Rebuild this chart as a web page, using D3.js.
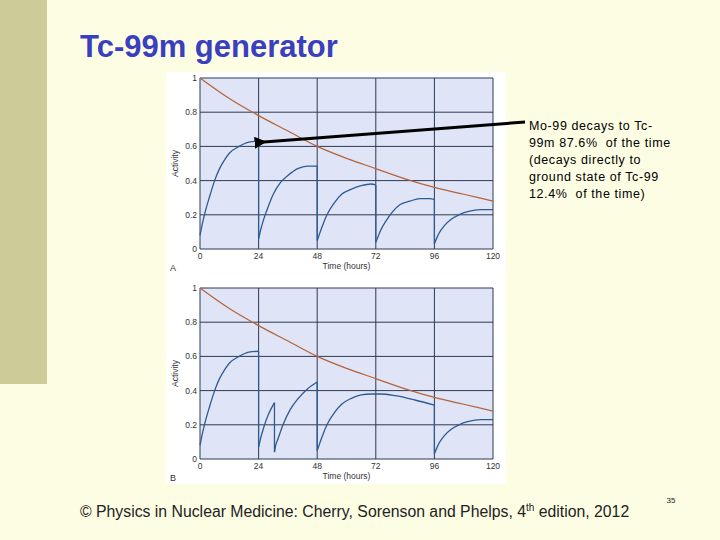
<!DOCTYPE html>
<html><head><meta charset="utf-8">
<script src="https://cdn.jsdelivr.net/npm/d3@7"></script>
<style>body{margin:0;background:#fdfde4;}svg{display:block;font-family:Arial,"Liberation Sans",sans-serif;}</style>
</head><body>
<script>
// Time ticks (hours) and activity ticks
const timeTicks = [0, 24, 48, 72, 96, 120];
const activityTicks = [0, 0.2, 0.4, 0.6, 0.8, 1];

// Mo-99 parent activity
const moCurve = [[0,1],[12,0.88],[24,0.78],[36,0.69],[48,0.6],[60,0.53],[72,0.47],[84,0.41],[96,0.36],[108,0.32],[120,0.28]];

const firstPeak = [[0,0.08],[1,0.15],[2,0.21],[4,0.31],[6,0.4],[8,0.47],[10,0.52],[12,0.56],[16,0.6],[20,0.625],[24,0.63]];
const lastSeg = [[96,0.03],[97,0.065],[98,0.095],[100,0.135],[103,0.175],[106,0.2],[110,0.22],[115,0.23],[120,0.23]];

// Panel A: daily elution, one array per build-up
const tcA = [firstPeak,
  [[24,0.06],[25,0.12],[26,0.17],[28,0.25],[30,0.32],[33,0.39],[36,0.43],[40,0.47],[44,0.485],[48,0.485]],
  [[48,0.05],[49,0.09],[50,0.13],[52,0.2],[55,0.27],[58,0.32],[62,0.35],[66,0.37],[70,0.38],[72,0.375]],
  [[72,0.04],[73,0.075],[74,0.11],[76,0.16],[79,0.22],[82,0.26],[86,0.28],[90,0.295],[94,0.295],[96,0.29]],
  lastSeg];

// Panel B: irregular elution
const tcB = [firstPeak,
  [[24,0.07],[25,0.13],[26,0.18],[28,0.26],[30.5,0.33]],
  [[30.5,0.04],[31,0.08],[32,0.12],[34,0.2],[37,0.29],[40,0.35],[44,0.41],[48,0.45]],
  [[48,0.05],[49,0.09],[50,0.13],[52,0.2],[55,0.27],[58,0.32],[62,0.355],[66,0.375],[70,0.38],[74,0.38],[80,0.37],[88,0.345],[96,0.315]],
  lastSeg];

const svg = d3.select("body").append("svg").attr("width", 720).attr("height", 540);

svg.append("rect").attr("x", 0).attr("y", 0).attr("width", 47).attr("height", 384).attr("fill", "#cccc99");
svg.append("text").attr("x", 80).attr("y", 57).attr("font-size", 31).attr("font-weight", "bold")
  .attr("fill", "#3a3fbf").text("Tc-99m generator");

svg.append("rect").attr("x", 166).attr("y", 72).attr("width", 340).attr("height", 412).attr("fill", "#fff");

const x = d3.scaleLinear().domain([0, 120]).range([200, 493]);

function panel(top, segs, label) {
  const y = d3.scaleLinear().domain([0, 1]).range([top + 171, top]);
  const g = svg.append("g");
  g.append("rect").attr("x", x(0)).attr("y", y(1)).attr("width", x(120) - x(0)).attr("height", y(0) - y(1)).attr("fill", "#dfe4f6");
  g.selectAll(".h").data(activityTicks).join("line")
    .attr("x1", x(0)).attr("x2", x(120)).attr("y1", d => y(d)).attr("y2", d => y(d))
    .attr("stroke", "#2d3b55").attr("stroke-width", 1);
  g.selectAll(".v").data(timeTicks).join("line")
    .attr("y1", y(0)).attr("y2", y(1)).attr("x1", d => x(d)).attr("x2", d => x(d))
    .attr("stroke", "#2d3b55").attr("stroke-width", 1);
  const line = d3.line().x(d => x(d[0])).y(d => y(d[1])).curve(d3.curveMonotoneX);
  g.append("path").attr("d", line(moCurve)).attr("fill", "none").attr("stroke", "#b5643a").attr("stroke-width", 1.2);
  g.selectAll(".tc").data(segs).join("path").attr("d", line).attr("fill", "none").attr("stroke", "#2f5a92").attr("stroke-width", 1.3);
  // vertical drops at each elution
  g.selectAll(".drop").data(segs.slice(1)).join("line")
    .attr("x1", (d, i) => x(segs[i][segs[i].length - 1][0])).attr("x2", d => x(d[0][0]))
    .attr("y1", (d, i) => y(segs[i][segs[i].length - 1][1])).attr("y2", d => y(d[0][1]))
    .attr("stroke", "#2f5a92").attr("stroke-width", 1.3);
  g.selectAll(".yt").data(activityTicks).join("text")
    .attr("x", x(0) - 3).attr("y", d => y(d) + 3).attr("text-anchor", "end").attr("font-size", 8.5).attr("fill", "#333")
    .text(d => d3.format("~g")(d));
  g.selectAll(".xt").data(timeTicks).join("text")
    .attr("x", d => x(d)).attr("y", y(0) + 10).attr("text-anchor", "middle").attr("font-size", 8.5).attr("fill", "#333")
    .text(d => d);
  g.append("text").attr("x", x(60)).attr("y", y(0) + 20).attr("text-anchor", "middle").attr("font-size", 8.5).attr("fill", "#333").text("Time (hours)");
  g.append("text").attr("transform", `translate(178,${y(0.5)}) rotate(-90)`).attr("text-anchor", "middle").attr("font-size", 8.5).attr("fill", "#333").text("Activity");
  g.append("text").attr("x", 170).attr("y", y(0) + 22).attr("font-size", 9).attr("fill", "#333").text(label);
  return y;
}

const yA = panel(78, tcA, "A");
panel(288, tcB, "B");

// annotation arrow
svg.append("defs").append("marker").attr("id", "ah").attr("viewBox", "0 0 10 10").attr("refX", 5).attr("refY", 5)
  .attr("markerWidth", 4).attr("markerHeight", 4).attr("orient", "auto")
  .append("path").attr("d", "M10,0L0,5L10,10z").attr("fill", "#000");
svg.append("line").attr("x1", 525).attr("y1", 122).attr("x2", x(24) + 2).attr("y2", yA(0.63) + 1)
  .attr("stroke", "#000").attr("stroke-width", 3).attr("marker-end", "url(#ah)");

const note = ["Mo-99 decays to Tc-", "99m 87.6%  of the time", "(decays directly to", "ground state of Tc-99", "12.4%  of the time)"];
svg.append("g").selectAll("text").data(note).join("text")
  .attr("x", 529).attr("y", (d, i) => 130 + i * 17).attr("font-size", 12.5).attr("letter-spacing", 0.6)
  .attr("fill", "#000").attr("xml:space", "preserve").style("white-space", "pre").text(d => d);

const foot = svg.append("text").attr("x", 80).attr("y", 517).attr("font-size", 15.8).attr("fill", "#222");
foot.append("tspan").text("© Physics in Nuclear Medicine: Cherry, Sorenson and Phelps, 4");
foot.append("tspan").attr("dy", -6).attr("font-size", 10).text("th");
foot.append("tspan").attr("dy", 6).text(" edition, 2012");
svg.append("text").attr("x", 671).attr("y", 503).attr("text-anchor", "middle").attr("font-size", 8).attr("fill", "#222").text("35");
</script>
</body></html>
